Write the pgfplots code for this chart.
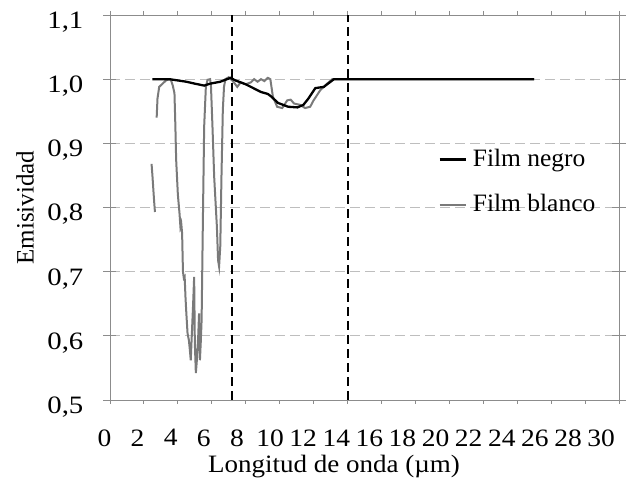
\documentclass[border=0pt]{standalone}
\usepackage{pgfplots}
\pgfplotsset{compat=1.18}
\usepackage{fontspec}
\setmainfont{Liberation Serif}
\definecolor{blanco}{HTML}{7A7A7A}
\definecolor{gridc}{HTML}{BEBEBE}
\definecolor{framec}{HTML}{8C8C8C}
\begin{document}
\fontsize{25}{29}\selectfont
\begin{tikzpicture}
\begin{axis}[
  scale only axis,
  width=509pt, height=385pt,
  xmin=0, xmax=30, ymin=0.5, ymax=1.1,
  xtick={0,2,...,30},
  ytick={0.5,0.6,0.7,0.8,0.9,1.0,1.1},
  /pgf/number format/assume math mode=true,
  yticklabel style={/pgf/number format/.cd, use comma, fixed, fixed zerofill, precision=1,
     /tikz/.cd, xscale=1.15, yshift=-7pt, xshift=-9pt},
  xticklabel style={/pgf/number format/.cd, use comma, fixed, /tikz/.cd, xscale=1.1, yshift=-8pt,
     xshift={-5pt-0.75pt*\ticknum}},
  ytick align=center,
  xtick align=outside,
  major tick length=13pt,
  x tick style={dash pattern=on 0pt off 9pt on 4pt off 30pt},
  tick style={framec, line width=0.9pt},
  axis line style={framec, line width=0.9pt},
  ymajorgrids,
  major grid style={gridc, line width=0.8pt, dash pattern=on 10pt off 5pt},
  xlabel={Longitud de onda (µm)},
  ylabel={Emisividad},
  every axis x label/.style={at={(axis description cs:0.44,-0.174)}, anchor=center, xscale=1.08},
  every axis y label/.style={at={(axis description cs:-0.167,0.5)}, rotate=90, anchor=center},
  legend style={draw=none, fill=none, at={(rel axis cs:0.645,0.655)}, anchor=north west,
    row sep=22pt, inner sep=0pt, nodes={inner sep=1pt, xscale=1.02}},
  legend cell align=left,
  legend image code/.code={\draw[#1] (0pt,0pt) -- (26pt,0pt);},
  legend style={/tikz/every odd column/.append style={column sep=5pt}},
  reverse legend,
  unbounded coords=jump,
]
% vertical dashed lines
\addplot[black, line width=2pt, dash pattern=on 9pt off 5pt, forget plot] coordinates {(7.2,0.5) (7.2,1.1)};
\addplot[black, line width=2pt, dash pattern=on 9pt off 5pt, forget plot] coordinates {(14,0.5) (14,1.1)};
% Film blanco
\addplot[blanco, line width=2pt, forget plot] coordinates {
(2.45,0.868) (2.5,0.85) (2.55,0.83) (2.6,0.81) (2.65,0.793)
};
\addplot[blanco, line width=2pt] coordinates {
(2.75,0.94) (2.8,0.97) (2.9,0.988) (3.1,0.993) (3.3,0.998) (3.5,1.0) (3.6,0.998)
(3.7,0.99) (3.8,0.978) (3.85,0.93) (3.9,0.874) (4.0,0.82) (4.1,0.79) (4.15,0.77)
(4.2,0.775) (4.25,0.76) (4.3,0.70) (4.35,0.69) (4.4,0.692) (4.45,0.66) (4.5,0.635)
(4.57,0.604) (4.65,0.593) (4.7,0.58) (4.76,0.562) (4.82,0.60) (4.9,0.65) (4.96,0.692)
(5.0,0.589) (5.06,0.542) (5.12,0.562) (5.2,0.60) (5.25,0.635) (5.3,0.562) (5.35,0.59)
(5.4,0.625) (5.47,0.77) (5.55,0.926) (5.65,0.988) (5.75,0.999) (5.9,1.0) (5.95,0.99)
(6.04,0.926) (6.14,0.848) (6.3,0.77) (6.37,0.718) (6.43,0.708) (6.5,0.74) (6.57,0.848)
(6.65,0.952) (6.72,0.988) (6.8,1.0) (7.0,1.003) (7.2,0.998) (7.3,0.995) (7.5,0.988)
(7.7,0.995) (8.0,0.992) (8.3,0.995) (8.5,1.0) (8.7,0.996) (8.9,1.0) (9.1,0.997)
(9.3,1.002) (9.45,1.0) (9.6,0.973) (9.85,0.957) (10.15,0.955) (10.45,0.967)
(10.65,0.968) (10.85,0.962) (11.2,0.96) (11.5,0.955) (11.8,0.957) (12.0,0.967)
(12.4,0.983) (12.8,0.993) (13.1,1.0) (14,1.0) (25,1.0)
};
\addlegendentry{Film blanco}
% Film negro
\addplot[black, line width=2.3pt] coordinates {
(2.5,1.0) (3.5,1.0) (4.0,0.998) (4.5,0.996) (5.0,0.993) (5.55,0.99) (5.9,0.993)
(6.5,0.996) (6.9,1.0) (7.1,1.002) (7.4,0.998) (7.7,0.995) (8.0,0.992) (8.3,0.988)
(8.9,0.98) (9.3,0.977) (9.5,0.973) (9.9,0.963) (10.5,0.957) (11.05,0.956) (11.4,0.96)
(11.7,0.97) (12.1,0.986) (12.6,0.988) (13.2,1.0) (25,1.0)
};
\addlegendentry{Film negro}
\end{axis}
\pgfresetboundingbox
\path (current axis.south west) ++(-110pt,-97pt) coordinate (bbA);
\path (current axis.north east) ++(13pt,15pt) coordinate (bbB);
\path[use as bounding box] (bbA) rectangle (bbB);
\end{tikzpicture}
\end{document}
